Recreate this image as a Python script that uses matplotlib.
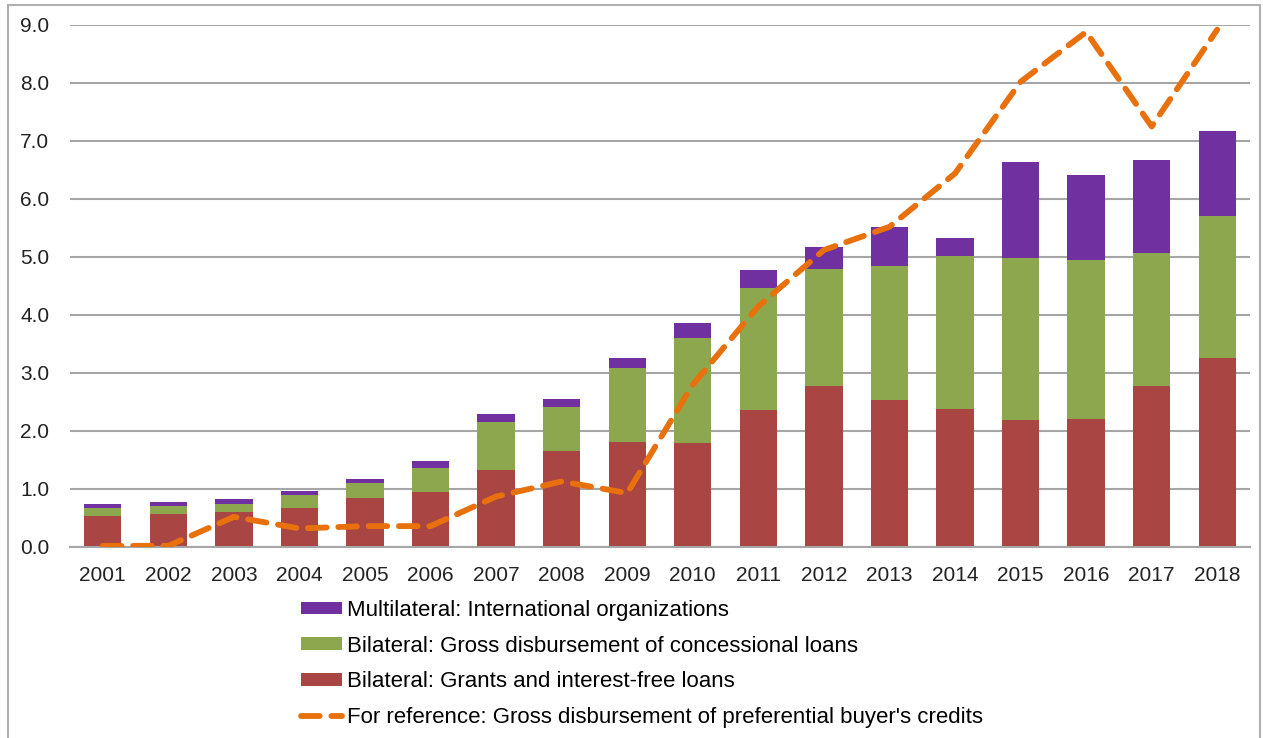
import matplotlib
matplotlib.use("Agg")
import matplotlib.pyplot as plt
from matplotlib.patches import Rectangle
import numpy as np

plt.rcParams["font.family"] = ["Liberation Sans", "DejaVu Sans"]

# values (USD bn)
years = ["2001", "2002", "2003", "2004", "2005", "2006", "2007", "2008", "2009",
         "2010", "2011", "2012", "2013", "2014", "2015", "2016", "2017", "2018"]
grants = [0.54, 0.57, 0.60, 0.68, 0.85, 0.95, 1.33, 1.66, 1.81,
          1.80, 2.37, 2.78, 2.53, 2.38, 2.19, 2.21, 2.78, 3.26]
concessional_top = [0.67, 0.71, 0.75, 0.90, 1.10, 1.37, 2.16, 2.41, 3.09,
                    3.60, 4.46, 4.80, 4.84, 5.01, 4.99, 4.95, 5.07, 5.71]
total_top = [0.74, 0.78, 0.83, 0.97, 1.18, 1.49, 2.29, 2.55, 3.26,
             3.87, 4.78, 5.18, 5.51, 5.32, 6.64, 6.42, 6.67, 7.18]
buyers_credits = [0.02, 0.02, 0.52, 0.32, 0.36, 0.36, 0.87, 1.13, 0.93,
                  2.80, 4.15, 5.12, 5.52, 6.44, 8.02, 8.88, 7.25, 8.92]

grants = np.array(grants)
concessional = np.array(concessional_top) - grants
multilateral = np.array(total_top) - np.array(concessional_top)

c_purple = "#7030A0"
c_green = "#8CA74E"
c_red = "#A94542"
c_orange = "#E8710E"

fig = plt.figure(figsize=(12.63, 7.38), dpi=100)
ax = fig.add_axes([70 / 1263, 1 - 547 / 738, 1180 / 1263, 522 / 738])

x = np.arange(len(years))
w = 0.57
b_red = ax.bar(x, grants, w, color=c_red, zorder=2)
b_green = ax.bar(x, concessional, w, bottom=grants, color=c_green, zorder=2)
b_purple = ax.bar(x, multilateral, w, bottom=concessional_top, color=c_purple, zorder=2)
line, = ax.plot(x, buyers_credits, color=c_orange, lw=4.2, dashes=(3.2, 2.0),
                dash_capstyle="round", solid_joinstyle="round", zorder=3)

ax.set_xlim(-0.5, len(years) - 0.5)
ax.set_ylim(0, 9)
yt = np.arange(0, 9.1, 1.0)
ax.set_yticks(yt)
ax.set_yticklabels([f"{v:.1f}" for v in yt], fontsize=15, color="#222222")
ax.set_xticks(x)
ax.set_xticklabels(years, fontsize=15, color="#222222")
ax.tick_params(length=0)
ax.tick_params(axis="x", pad=14)
ax.tick_params(axis="y", pad=15)
ax.grid(axis="y", color="#A6A6A6", lw=1.5, zorder=0)
for s in ["top", "right", "left"]:
    ax.spines[s].set_visible(False)
ax.spines["bottom"].set_color("#A6A6A6")
ax.spines["bottom"].set_linewidth(1.5)
ax.set_facecolor("none")

# legend below the plot
fig.legend([b_purple, b_green, b_red, line],
           ["Multilateral: International organizations",
            "Bilateral: Gross disbursement of concessional loans",
            "Bilateral: Grants and interest-free loans",
            "For reference: Gross disbursement of preferential buyer's credits"],
           loc="upper left", bbox_to_anchor=(301 / 1263, 1 - 600 / 738),
           frameon=False, fontsize=16, labelspacing=0.66, handlelength=1.85,
           handleheight=0.5, handletextpad=0.2, borderpad=0, borderaxespad=0)

# thin outer frame like the source figure
fig.patches.append(Rectangle((8 / 1263, -0.01), 1252 / 1263, 1 - 5 / 738 + 0.01,
                             transform=fig.transFigure, fill=False,
                             edgecolor="#B0B0B0", lw=1.5))

fig.savefig("out.png", dpi=100)
